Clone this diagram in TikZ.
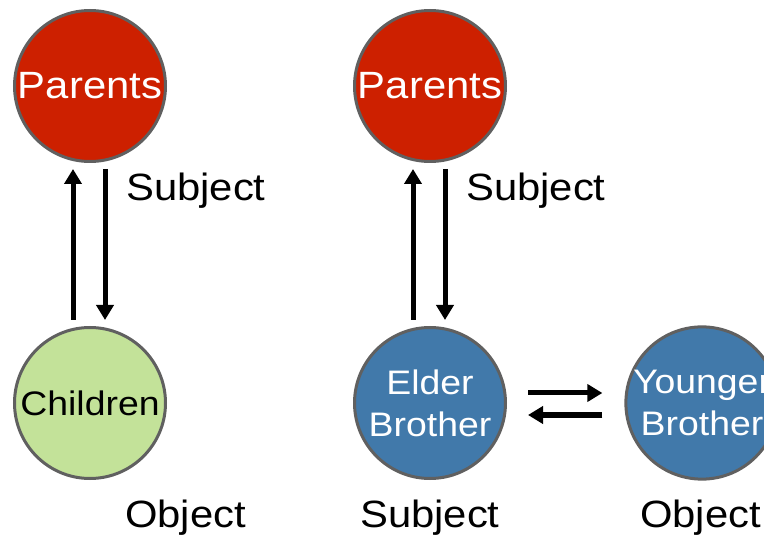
\documentclass[tikz,border=0pt]{standalone}
\usepackage{fontspec}
\setmainfont{Liberation Sans}[FakeStretch=1.1]
\usetikzlibrary{arrows.meta}
\definecolor{pred}{RGB}{205,32,0}
\definecolor{pgreen}{RGB}{195,226,153}
\definecolor{pblue}{RGB}{65,121,170}
\definecolor{pborder}{RGB}{96,96,96}
\tikzset{
  ball/.style={circle,draw=pborder,line width=3pt,minimum size=151pt,inner sep=0pt,align=center},
  bigfont/.style={font=\fontsize{38}{44}\selectfont},
  smallfont/.style={font=\fontsize{34}{42}\selectfont},
  lbl/.style={bigfont,anchor=base west,inner sep=0pt,text=black},
  arr/.style={line width=5pt,-{Triangle[width=17pt,length=15pt]}},
}
\begin{document}
\begin{tikzpicture}[x=1pt,y=-1pt]
\useasboundingbox (0,0) rectangle (764,540);
% left group
\node[ball,fill=pred,text=white,bigfont] (P1) at (90,86) {Parents};
\node[ball,fill=pgreen,text=black,smallfont] (C1) at (90,403) {Children};
\draw[arr,shorten <=6pt,shorten >=6pt] ([xshift=-17pt]C1.north) -- ([xshift=-17pt]P1.south);
\draw[arr,shorten <=6pt,shorten >=6pt] ([xshift=15pt]P1.south) -- ([xshift=15pt]C1.north);
\node[lbl] (S1) at (126,201) {Subject};
\node[lbl] (O1) at (125,527) {Object};
% right group
\node[ball,fill=pred,text=white,bigfont] (P2) at (430,86) {Parents};
\node[ball,fill=pblue,text=white,smallfont] (E) at (430,403) {Elder\\Brother};
\node[ball,fill=pblue,text=white,smallfont] (Y) at (702,403) {Younger\\Brother};
\draw[arr,shorten <=6pt,shorten >=6pt] ([xshift=-17pt]E.north) -- ([xshift=-17pt]P2.south);
\draw[arr,shorten <=6pt,shorten >=6pt] ([xshift=15pt]P2.south) -- ([xshift=15pt]E.north);
\draw[arr,shorten <=21pt,shorten >=22pt] ([yshift=10pt]E.east) -- ([yshift=10pt]Y.west);
\draw[arr,shorten <=22pt,shorten >=21pt] ([yshift=-12pt]Y.west) -- ([yshift=-12pt]E.east);
\node[lbl] (S2) at (466,201) {Subject};
\node[lbl] (S3) at (360,527) {Subject};
\node[lbl] (O2) at (640,527) {Object};
\end{tikzpicture}
\end{document}
